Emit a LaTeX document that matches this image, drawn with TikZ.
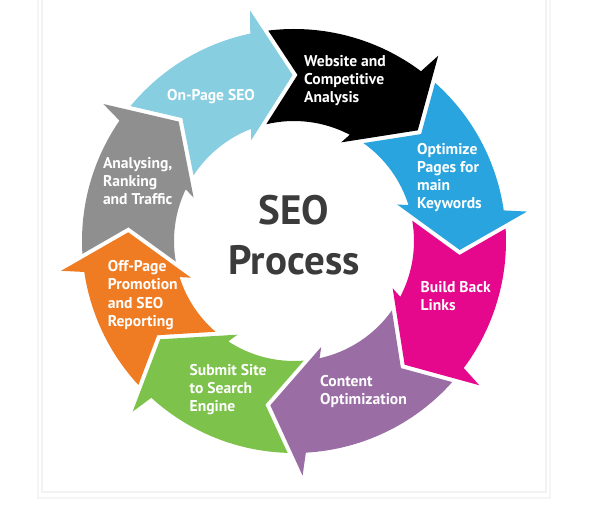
\documentclass[tikz,border=0pt]{standalone}
\usepackage{fontspec}
\setsansfont{PT Sans}
\definecolor{cyanseg}{HTML}{87CEE0}
\definecolor{blackseg}{HTML}{000000}
\definecolor{blueseg}{HTML}{29A4DE}
\definecolor{pinkseg}{HTML}{E5078C}
\definecolor{purpleseg}{HTML}{9A6EA5}
\definecolor{greenseg}{HTML}{7DC24B}
\definecolor{orangeseg}{HTML}{EF7B22}
\definecolor{grayseg}{HTML}{8F8F8F}
\definecolor{textdark}{HTML}{3B3B3B}
\newcommand\seoseg[3]{%
  \fill[#3] ({#2+6.47}:212pt) arc[start angle={#2+6.47}, end angle={#1+11.4}, radius=212pt]
    -- ({#1+10.3}:234.8pt) -- ({#1}:166pt) -- ({#1+22.6}:109.4pt) -- ({#1+20.5}:120pt)
    arc[start angle={#1+20.5}, end angle={#2+12.86}, radius=120pt]
    -- ({#2-1.73}:166.1pt) -- cycle;}
\begin{document}
\begin{tikzpicture}[x=1pt,y=1pt,
  lbl/.style={text=white, font=\sffamily\bfseries\fontsize{15.6}{18.3}\selectfont, align=left, inner sep=0pt, anchor=west},
  big/.style={text=textdark, font=\sffamily\bfseries\fontsize{41}{50}\selectfont, inner sep=0pt, anchor=base}]
\useasboundingbox (0,0) rectangle (595,514);
\fill[white] (0,0) rectangle (595,514);
\draw[black!4, line width=2.5pt] (38,16) rectangle (550,530);
\draw[black!5, line width=1.2pt] (42,22) rectangle (546,530);
\begin{scope}[shift={(294,273)}]
  \seoseg{90.5}{134}{cyanseg}
  \seoseg{41.8}{90.5}{blackseg}
  \seoseg{-3.1}{41.8}{blueseg}
  \seoseg{-48.2}{-3.1}{pinkseg}
  \seoseg{-98.2}{-48.2}{purpleseg}
  \seoseg{-143.7}{-98.2}{greenseg}
  \seoseg{-183}{-143.7}{orangeseg}
  \seoseg{-226}{-183}{grayseg}
\end{scope}
\node[lbl, anchor=center] (onpage) at (211,417.3) {On-Page SEO};
\node[lbl] (website) at (304,433.5) {Website and\\Competitive\\Analysis};
\node[lbl] (optimize) at (417,336.5) {Optimize\\Pages for\\main\\Keywords};
\node[lbl] (build) at (420.5,218) {Build Back\\Links};
\node[lbl] (content) at (320,122.5) {Content\\Optimization};
\node[lbl] (submit) at (189.5,124.5) {Submit Site\\to Search\\Engine};
\node[lbl] (offpage) at (107.7,219) {Off-Page\\Promotion\\and SEO\\Reporting};
\node[lbl] (analysing) at (102.8,333) {Analysing,\\Ranking\\and Traffic};
\node[big] (seo) at (294,289) {SEO};
\node[big] (process) at (294,239) {Process};
\end{tikzpicture}
\end{document}
